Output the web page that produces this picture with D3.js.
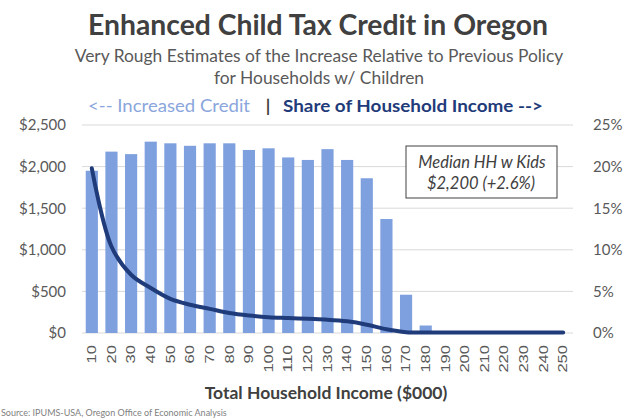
<!DOCTYPE html>
<html><head><meta charset="utf-8">
<script src="https://cdn.jsdelivr.net/npm/d3@7"></script>
<style>body{margin:0;background:#fff;} svg{display:block;}</style>
</head><body>
<svg id="c" width="636" height="419"></svg>
<script>
const categories = ["10","20","30","40","50","60","70","80","90","100","110","120","130","140","150","160","170","180","190","200","210","220","230","240","250"];
const creditValues = [1950,2180,2150,2300,2280,2250,2280,2280,2200,2220,2110,2080,2210,2080,1860,1370,460,90,0,0,0,0,0,0,0];
const shareValues = [19.8,10.4,7.0,5.4,4.1,3.4,2.9,2.4,2.1,1.9,1.8,1.7,1.6,1.4,1.0,0.45,0.1,0.05,0.05,0.05,0.05,0.05,0.05,0.05,0.05];
const leftTicks = [0,500,1000,1500,2000,2500];
const rightTicks = [0,5,10,15,20,25];

const svg = d3.select("#c");
const font = "Lato, 'Open Sans', sans-serif";
const plot = {l:82, r:573, t:125, b:333};

const x = d3.scaleBand().domain(categories).range([plot.l, plot.r]).paddingInner(0.38).paddingOuter(0.19);
const yL = d3.scaleLinear().domain([0,2500]).range([plot.b, plot.t]);
const yR = d3.scaleLinear().domain([0,25]).range([plot.b, plot.t]);

// gridlines
svg.append("g").selectAll("line").data(leftTicks).join("line")
  .attr("x1", plot.l).attr("x2", plot.r)
  .attr("y1", d=>yL(d)).attr("y2", d=>yL(d))
  .attr("stroke", "#d9d9d9").attr("stroke-width", 1);

// bars
svg.append("g").selectAll("rect").data(categories).join("rect")
  .attr("x", d=>x(d)).attr("width", x.bandwidth())
  .attr("y", (d,i)=>yL(creditValues[i]))
  .attr("height", (d,i)=>plot.b - yL(creditValues[i]))
  .attr("fill", "#7fa0df");

// line
const line = d3.line()
  .x((d,i)=>x(categories[i]) + x.bandwidth()/2)
  .y(d=>yR(d))
  .curve(d3.curveCatmullRom.alpha(0.5));
svg.append("path").datum(shareValues).attr("d", line)
  .attr("fill","none").attr("stroke","#1f3b7a").attr("stroke-width",4)
  .attr("stroke-linecap","round").attr("stroke-linejoin","round");

// left axis
const axL = svg.append("g").attr("transform",`translate(${plot.l-16},0)`)
  .call(d3.axisLeft(yL).tickValues(leftTicks).tickSize(0).tickPadding(0)
    .tickFormat(d=>"$"+d3.format(",")(d)));
axL.select(".domain").remove();
axL.selectAll("text").attr("font-family",font).attr("font-size",15).attr("fill","#595959");

// right axis
const axR = svg.append("g").attr("transform",`translate(${plot.r+20},0)`)
  .call(d3.axisRight(yR).tickValues(rightTicks).tickSize(0).tickPadding(0)
    .tickFormat(d=>d+"%"));
axR.select(".domain").remove();
axR.selectAll("text").attr("font-family",font).attr("font-size",15).attr("fill","#595959");

// bottom axis
const axB = svg.append("g").attr("transform",`translate(0,${plot.b+12})`)
  .call(d3.axisBottom(x).tickSize(0).tickPadding(0));
axB.select(".domain").remove();
axB.selectAll(".tick text").attr("font-family","'Liberation Sans', Arial, sans-serif").attr("font-size",12).attr("fill","#595959")
  .attr("text-anchor","end")
  .attr("dy","0.35em").attr("y",0).attr("x",0)
  .attr("textLength", d=>d.length*9.2)
  .attr("lengthAdjust","spacingAndGlyphs")
  .attr("transform","rotate(-90)");

// titles
svg.append("text").attr("x",318).attr("y",35).attr("text-anchor","middle")
  .attr("font-family",font).attr("font-weight","bold").attr("font-size",28.3).attr("fill","#404040")
  .text("Enhanced Child Tax Credit in Oregon");
svg.append("text").attr("x",319).attr("y",62).attr("text-anchor","middle")
  .attr("font-family",font).attr("font-size",17.4).attr("fill","#595959")
  .text("Very Rough Estimates of the Increase Relative to Previous Policy");
svg.append("text").attr("x",319).attr("y",84).attr("text-anchor","middle")
  .attr("font-family",font).attr("font-size",17.4).attr("fill","#595959")
  .text("for Households w/ Children");

// legend line
svg.append("text").attr("x",88).attr("y",112).attr("textLength",162).attr("lengthAdjust","spacingAndGlyphs")
  .attr("font-family",font).attr("font-size",17.5).attr("fill","#8aa6dc")
  .text("<-- Increased Credit");
svg.append("text").attr("x",268).attr("y",112).attr("text-anchor","middle")
  .attr("font-family",font).attr("font-size",17.5).attr("font-weight","bold").attr("fill","#404040")
  .text("|");
svg.append("text").attr("x",283).attr("y",112).attr("textLength",260).attr("lengthAdjust","spacingAndGlyphs")
  .attr("font-family",font).attr("font-size",17.5).attr("font-weight","bold").attr("fill","#1f3b7a")
  .text("Share of Household Income -->");

// annotation
svg.append("rect").attr("x",406).attr("y",146).attr("width",151).attr("height",52)
  .attr("fill","#fff").attr("stroke","#404040").attr("stroke-width",1);
svg.append("text").attr("x",482).attr("y",168).attr("text-anchor","middle")
  .attr("font-family",font).attr("font-style","italic").attr("font-size",16.5).attr("fill","#404040")
  .text("Median HH w Kids");
svg.append("text").attr("x",481).attr("y",189).attr("text-anchor","middle")
  .attr("font-family",font).attr("font-style","italic").attr("font-size",16.5).attr("fill","#404040")
  .text("$2,200 (+2.6%)");

// x-axis title
svg.append("text").attr("x",326).attr("y",399).attr("text-anchor","middle")
  .attr("font-family",font).attr("font-weight","bold").attr("font-size",17.5).attr("fill","#404040")
  .text("Total Household Income ($000)");

// source
svg.append("text").attr("x",1).attr("y",416)
  .attr("font-family",font).attr("font-size",9).attr("fill","#7f7f7f")
  .text("Source: IPUMS-USA, Oregon Office of Economic Analysis");
</script>
</body></html>
